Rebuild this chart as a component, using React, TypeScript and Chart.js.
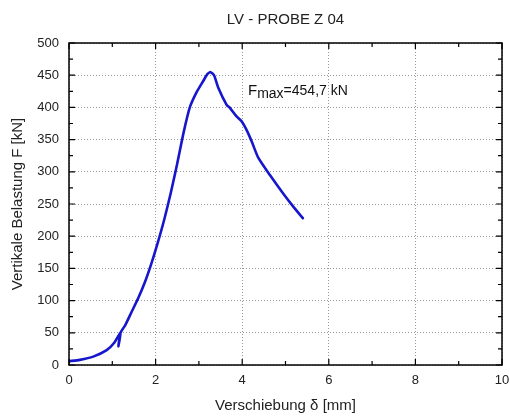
import React, { useEffect, useRef } from "react";
import { Chart, registerables } from "chart.js";

Chart.register(...registerables);

const titleText = "LV - PROBE Z 04";
const xAxisTitle = "Verschiebung δ [mm]";
const yAxisTitle = "Vertikale Belastung F [kN]";
const annotationMain = "F";
const annotationSub = "max";
const annotationRest = "=454,7 kN";

const xTicksMajor = [0, 2, 4, 6, 8, 10];
const yTicksMajor = [0, 50, 100, 150, 200, 250, 300, 350, 400, 450, 500];

const displacement = [
  0, 0.25, 0.56, 0.87, 1.05, 1.19, 1.14, 1.19, 1.3, 1.45, 1.6, 1.75, 1.9, 2.05,
  2.2, 2.35, 2.5, 2.65, 2.79, 2.95, 3.1, 3.2, 3.27, 3.35, 3.45, 3.64, 3.72, 3.87,
  3.99, 4.1, 4.22, 4.37, 4.64, 4.95, 5.18, 5.4,
];
const load = [
  6, 8, 13, 23, 35, 50, 29, 50, 62, 83, 104, 128, 157, 190, 226, 267, 313, 362,
  400, 424, 441, 452, 454.7, 450, 430, 404, 399, 386, 378, 365, 347, 322, 295,
  266, 246, 228,
];

const FONT = "'Liberation Sans', Arial, sans-serif";

const framePlugin = {
  id: "frameAndText",
  afterDraw(chart: any) {
    const { ctx, chartArea } = chart;
    const { left, right, top, bottom } = chartArea;
    const xs = chart.scales.x;
    const ys = chart.scales.y;
    ctx.save();
    ctx.strokeStyle = "#000";
    ctx.lineWidth = 1.5;
    ctx.strokeRect(left, top, right - left, bottom - top);
    ctx.lineWidth = 1.2;
    ctx.beginPath();
    for (let v = 0; v <= 10; v += 1) {
      const px = xs.getPixelForValue(v);
      const len = v % 2 === 0 ? 6 : 4;
      ctx.moveTo(px, bottom);
      ctx.lineTo(px, bottom - len);
      ctx.moveTo(px, top);
      ctx.lineTo(px, top + len);
    }
    for (let v = 0; v <= 500; v += 25) {
      const py = ys.getPixelForValue(v);
      const len = v % 50 === 0 ? 6 : 4;
      ctx.moveTo(left, py);
      ctx.lineTo(left + len, py);
      ctx.moveTo(right, py);
      ctx.lineTo(right - len, py);
    }
    ctx.stroke();

    ctx.fillStyle = "#222";
    ctx.textBaseline = "alphabetic";
    ctx.textAlign = "center";
    ctx.font = `15px ${FONT}`;
    ctx.fillText(titleText, (left + right) / 2, 23.5);

    ctx.textAlign = "left";
    ctx.fillStyle = "#111";
    let x = 248;
    const base = 95;
    ctx.font = `15px ${FONT}`;
    ctx.fillText(annotationMain, x, base);
    x += ctx.measureText(annotationMain).width;
    ctx.font = `14px ${FONT}`;
    ctx.fillText(annotationSub, x, base + 2.5);
    x += ctx.measureText(annotationSub).width;
    ctx.font = `14px ${FONT}`;
    ctx.fillText(annotationRest, x, base);
    ctx.restore();
  },
};

export default function App() {
  const ref = useRef<HTMLCanvasElement | null>(null);
  useEffect(() => {
    document.body.style.margin = "0";
    const canvas = ref.current;
    if (!canvas) return;
    const points = displacement.map((d, i) => ({ x: d, y: load[i] }));
    const chart = new Chart(canvas, {
      type: "scatter",
      data: {
        datasets: [
          {
            data: points,
            showLine: true,
            borderColor: "rgb(22,22,205)",
            backgroundColor: "rgb(22,22,205)",
            borderWidth: 2.6,
            pointRadius: 0,
            tension: 0.2,
            borderJoinStyle: "round",
            borderCapStyle: "round",
          },
        ],
      },
      options: {
        responsive: false,
        animation: false,
        devicePixelRatio: 1,
        layout: { padding: { top: 43, right: 8, left: 0, bottom: 0 } },
        plugins: {
          legend: { display: false },
          tooltip: { enabled: false },
          title: { display: false },
        },
        scales: {
          x: {
            type: "linear",
            min: 0,
            max: 10,
            afterFit: (s: any) => {
              s.height = 55;
              s.paddingLeft = 0;
              s.paddingRight = 0;
            },
            afterBuildTicks: (s: any) => {
              s.ticks = xTicksMajor.map((v) => ({ value: v }));
            },
            ticks: {
              padding: 8,
              color: "#222",
              font: { family: FONT, size: 13 },
            },
            grid: {
              drawTicks: false,
              color: "#999",
              lineWidth: 1,
            },
            border: { display: false, dash: [1, 2] },
            title: {
              display: true,
              text: xAxisTitle,
              color: "#222",
              font: { family: FONT, size: 15 },
              padding: { top: 0, bottom: 5 },
            },
          },
          y: {
            type: "linear",
            min: 0,
            max: 500,
            afterFit: (s: any) => {
              s.width = 69;
              s.paddingTop = 0;
              s.paddingBottom = 0;
            },
            afterBuildTicks: (s: any) => {
              s.ticks = yTicksMajor.map((v) => ({ value: v }));
            },
            ticks: {
              padding: 10,
              color: "#222",
              font: { family: FONT, size: 13 },
            },
            grid: {
              drawTicks: false,
              color: "#999",
              lineWidth: 1,
            },
            border: { display: false, dash: [1, 2] },
            title: {
              display: true,
              text: yAxisTitle,
              color: "#222",
              font: { family: FONT, size: 15 },
              padding: { top: 9, bottom: 0 },
            },
          },
        },
      },
      plugins: [framePlugin],
    });
    return () => chart.destroy();
  }, []);
  return (
    <div style={{ width: 510, height: 420 }}>
      <canvas ref={ref} width={510} height={420} style={{ display: "block" }} />
    </div>
  );
}
